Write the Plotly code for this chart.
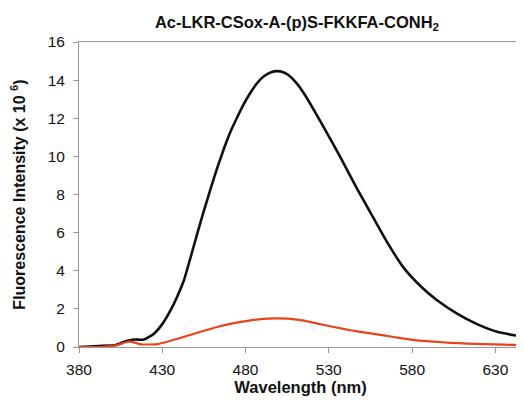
import plotly.graph_objects as go

wl_black = [380, 392, 402, 408, 413, 419, 425, 430, 435, 439, 443, 447, 451, 455, 459, 463, 467, 471, 475, 479, 483, 487, 491, 495, 499, 503, 507, 511, 515, 521, 529, 537, 547, 555, 565, 575, 585, 595, 607, 619, 631, 647]
int_black = [0.0, 0.05, 0.1, 0.3, 0.39, 0.39, 0.7, 1.2, 1.93, 2.65, 3.5, 4.7, 5.95, 7.15, 8.3, 9.4, 10.4, 11.3, 12.05, 12.75, 13.35, 13.85, 14.2, 14.4, 14.47, 14.4, 14.18, 13.8, 13.31, 12.44, 11.21, 9.95, 8.3, 7.05, 5.5, 4.15, 3.2, 2.45, 1.75, 1.2, 0.8, 0.53]

wl_red = [380, 393, 403, 408, 411, 417, 427, 443, 453, 463, 473, 483, 493, 505, 515, 523, 533, 543, 553, 563, 573, 583, 593, 603, 613, 623, 635, 647]
int_red = [0.0, 0.0, 0.1, 0.25, 0.28, 0.14, 0.15, 0.53, 0.8, 1.05, 1.25, 1.4, 1.49, 1.49, 1.38, 1.23, 1.05, 0.88, 0.74, 0.61, 0.47, 0.35, 0.28, 0.22, 0.18, 0.15, 0.12, 0.1]

x_ticks = [380, 430, 480, 530, 580, 630]
y_ticks = [0, 2, 4, 6, 8, 10, 12, 14, 16]

font_family = "Arial, Liberation Sans, sans-serif"

fig = go.Figure()
fig.add_trace(go.Scatter(x=wl_black, y=int_black, mode="lines",
                         line=dict(color="#111111", width=2.6, shape="spline", smoothing=0.5),
                         showlegend=False))
fig.add_trace(go.Scatter(x=wl_red, y=int_red, mode="lines",
                         line=dict(color="#E8431A", width=2.2, shape="spline", smoothing=0.5),
                         showlegend=False))

# page body has an 8px margin; figure sized so it fits in the 524x400 window
fig.update_layout(
    width=516, height=392,
    margin=dict(l=71, r=2, t=34, b=53),
    paper_bgcolor="white", plot_bgcolor="white",
    font=dict(family=font_family, color="#111111", size=15),
    title=dict(text="<b>Ac-LKR-CSox-A-(p)S-FKKFA-CONH<sub>2</sub></b>",
               x=0.56, xanchor="center", y=0.964, yanchor="middle",
               font=dict(size=16.5, family=font_family)),
    xaxis=dict(range=[380, 646], tickvals=x_ticks, ticks="outside", ticklen=5,
               tickcolor="#999999", showline=True, linecolor="#999999", linewidth=1,
               mirror=True, showgrid=False, zeroline=False,
               tickfont=dict(size=15.5), ticklabelstandoff=3,
               title=dict(text="<b>Wavelength (nm)</b>", font=dict(size=16.5), standoff=3)),
    yaxis=dict(range=[0, 16], tickvals=y_ticks, ticks="outside", ticklen=5,
               tickcolor="#999999", showline=True, linecolor="#999999", linewidth=1,
               mirror=True, showgrid=False, zeroline=False,
               tickfont=dict(size=15.5), ticklabelstandoff=5,
               title=dict(text="<b>Fluorescence Intensity (x 10 <sup>6</sup>)</b>",
                          font=dict(size=16), standoff=18)),
)

fig.write_html("out.html")
